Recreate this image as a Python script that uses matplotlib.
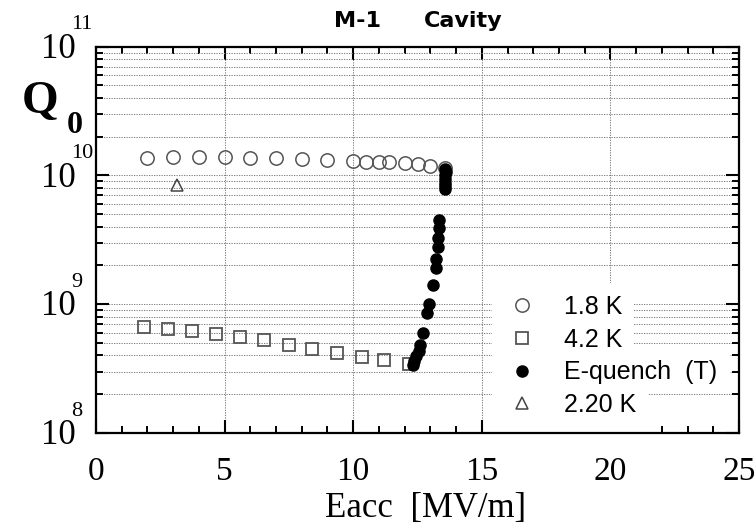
import matplotlib
matplotlib.use("Agg")
import matplotlib.pyplot as plt
from matplotlib.ticker import LogLocator, MultipleLocator, NullFormatter
from matplotlib.patches import Rectangle

# Q0 vs accelerating field, 1.8 K
e_18 = [2.0, 3.0, 4.0, 5.0, 6.0, 7.0, 8.0, 9.0, 10.0, 10.5, 11.0, 11.4, 12.0, 12.5, 13.0, 13.55]
q_18 = [1.37e10, 1.38e10, 1.38e10, 1.38e10, 1.37e10, 1.36e10, 1.34e10, 1.33e10,
        1.30e10, 1.28e10, 1.28e10, 1.27e10, 1.25e10, 1.22e10, 1.18e10, 1.15e10]

# 4.2 K
e_42 = [1.87, 2.81, 3.74, 4.67, 5.61, 6.53, 7.49, 8.41, 9.36, 10.34, 11.19, 12.17]
q_42 = [6.6e8, 6.37e8, 6.15e8, 5.84e8, 5.57e8, 5.27e8, 4.84e8, 4.5e8, 4.19e8, 3.86e8, 3.67e8, 3.41e8]

# quench points (temperature sweep)
e_qn = [13.58, 13.6, 13.58, 13.57, 13.56, 13.55, 13.55, 13.32, 13.35, 13.30, 13.28, 13.22,
        13.20, 13.09, 12.96, 12.87, 12.70, 12.61, 12.54, 12.45, 12.37, 12.32]
q_qn = [1.12e10, 1.06e10, 1.0e10, 9.4e9, 8.8e9, 8.3e9, 7.8e9, 4.54e9, 3.93e9, 3.29e9, 2.80e9,
        2.26e9, 1.92e9, 1.41e9, 1.0e9, 8.55e8, 6.0e8, 4.82e8, 4.33e8, 3.96e8, 3.63e8, 3.37e8]

# 2.20 K
e_22 = [3.15]
q_22 = [8.5e9]

x_limits = (0, 25)
y_decades = [8, 9, 10, 11]
series_labels = ["1.8 K", "4.2 K", "E-quench  (T)", "2.20 K"]

SERIF = "Liberation Serif"
SANS = "Liberation Sans"

fig = plt.figure(figsize=(7.56, 5.30), dpi=100)
W, H = 756, 530
ax = fig.add_axes([96 / W, (H - 433) / H, 643 / W, 386.3 / H])

ax.set_yscale("log")
ax.set_xlim(*x_limits)
ax.set_ylim(10.0 ** y_decades[0], 10.0 ** y_decades[-1])

ax.xaxis.set_major_locator(MultipleLocator(5))
ax.xaxis.set_minor_locator(MultipleLocator(1))
ax.yaxis.set_major_locator(LogLocator(base=10, numticks=10))
ax.yaxis.set_minor_locator(LogLocator(base=10, subs=range(2, 10), numticks=20))
ax.yaxis.set_major_formatter(NullFormatter())
ax.yaxis.set_minor_formatter(NullFormatter())

ax.tick_params(which="major", direction="in", length=9.5, width=1.5,
               top=True, right=True, labelsize=24, pad=17)
ax.tick_params(which="minor", direction="in", length=5.2, width=1.4,
               top=True, right=True)
for lab in ax.get_xticklabels():
    lab.set_fontfamily(SERIF)
for sp in ax.spines.values():
    sp.set_linewidth(1.6)

ax.set_axisbelow(True)
grid_kw = dict(color="#808080", linestyle=(0, (1.2, 1.2)), linewidth=0.75)
ax.grid(True, which="major", axis="x", **grid_kw)
ax.grid(True, which="both", axis="y", **grid_kw)

# white patches behind the legend rows
for (x0, x1, y0, y1) in [(0.616, 0.837, 0.287, 0.388),
                         (0.616, 0.837, 0.210, 0.287),
                         (0.616, 0.986, 0.124, 0.210),
                         (0.616, 0.858, 0.000, 0.124)]:
    ax.add_patch(Rectangle((x0, y0), x1 - x0, y1 - y0, transform=ax.transAxes,
                           facecolor="white", edgecolor="none", zorder=1))

h18, = ax.plot(e_18, q_18, "o", ms=9.6, mfc="none", mec="#555555", mew=1.1, zorder=3)
h42, = ax.plot(e_42, q_42, "s", ms=8.6, mfc="none", mec="#555555", mew=1.3, zorder=3)
hqn, = ax.plot(e_qn, q_qn, "o", ms=8.0, color="black", zorder=4)
h22, = ax.plot(e_22, q_22, "^", ms=8.5, mfc="none", mec="#444444", mew=1.1, zorder=3)

leg = ax.legend([h18, h42, hqn, h22], series_labels, loc="upper left",
                bbox_to_anchor=(0.623, 0.390), frameon=False, borderpad=0,
                handlelength=1.0, handletextpad=1.2, labelspacing=0.35,
                prop={"family": SANS, "size": 18}, numpoints=1)
leg.set_zorder(5)

# decade labels on the y axis
for k in y_decades:
    ax.annotate("10", xy=(0, 10.0 ** k), xycoords=("axes fraction", "data"),
                xytext=(-14.4, -8), textcoords="offset points",
                ha="right", va="baseline", fontsize=25, family=SERIF,
                annotation_clip=False)
    ax.annotate(str(k), xy=(0, 10.0 ** k), xycoords=("axes fraction", "data"),
                xytext=(-17.8, 12.5), textcoords="offset points",
                ha="left", va="baseline", fontsize=16, family=SERIF,
                annotation_clip=False)

# axis names
fig.text(22 / W, 1 - 113 / H, "Q", fontsize=34, fontweight="bold", family=SERIF,
         ha="left", va="baseline")
fig.text(67 / W, 1 - 133 / H, "0", fontsize=23, fontweight="bold", family=SERIF,
         ha="left", va="baseline")
ax.set_xlabel("Eacc  [MV/m]", fontsize=25, family=SERIF)
ax.xaxis.set_label_coords(0.513, -0.153)

# title
fig.text(357 / W, 1 - 27 / H, "M-1", fontsize=16, fontweight="bold",
         family="DejaVu Sans", ha="center", va="baseline")
fig.text(463 / W, 1 - 27 / H, "Cavity", fontsize=16, fontweight="bold",
         family="DejaVu Sans", ha="center", va="baseline")

fig.savefig("out.png", dpi=100)
